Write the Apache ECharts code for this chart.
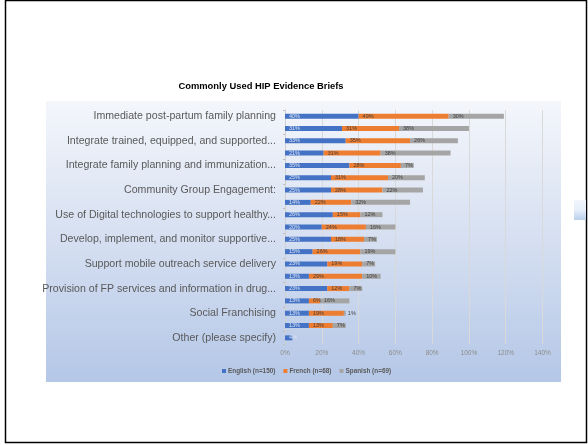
<!DOCTYPE html>
<html>
<head>
<meta charset="utf-8">
<script src="https://cdn.jsdelivr.net/npm/echarts@6/dist/echarts.min.js"></script>
<style>
html,body{margin:0;padding:0;background:#fff;}
#c{width:588px;height:445px;}
</style>
</head>
<body>
<div id="c"></div>
<script>
const categories = [
  "Immediate post-partum family planning",
  "Family planning vouchers",
  "Integrate trained, equipped, and supported community health workers",
  "Pharmacies and drug shops",
  "Integrate family planning and immunization services",
  "Mass media",
  "Community Group Engagement:",
  "Health communication",
  "Use of Digital technologies to support healthy behaviors",
  "Postabortion family planning",
  "Develop, implement, and monitor supportive policies",
  "Educating girls",
  "Support mobile outreach service delivery",
  "Leaders and managers",
  "Provision of FP services and information in drug shops",
  "Family planning and HIV integration",
  "Social Franchising",
  "Domestic public financing",
  "Other (please specify)"
];
const english = [40, 31, 33, 21, 35, 25, 25, 14, 26, 20, 25, 15, 23, 13, 23, 13, 13, 13, 4];
const french  = [49, 31, 35, 31, 28, 31, 28, 22, 15, 24, 18, 26, 19, 29, 12, 6, 19, 13, null];
const spanish = [30, 38, 26, 38, 7, 20, 22, 32, 12, 16, 7, 19, 7, 10, 7, 16, 1, 7, null];
const xTicks = [0, 20, 40, 60, 80, 100, 120, 140];
const seriesNames = ["English (n=150)", "French (n=68)", "Spanish (n=69)"];

const FONT = '"Liberation Sans", Arial, sans-serif';
const LABEL_SIZE = 10.6;
const MAX_W = 238;
const ctx = document.createElement('canvas').getContext('2d');
ctx.font = LABEL_SIZE + 'px ' + FONT;
function fit(text) {
  if (ctx.measureText(text).width <= MAX_W) return text;
  const words = text.split(' ');
  let out = '';
  for (const w of words) {
    const trial = out ? out + ' ' + w : w;
    if (ctx.measureText(trial + '...').width > MAX_W) break;
    out = trial;
  }
  return out + '...';
}

const chart = echarts.init(document.getElementById('c'), null, {renderer: 'canvas'});
function lbl(color) {
  return {
    show: true, position: 'insideLeft', distance: 4,
    fontSize: 5.5, fontFamily: FONT, color: color,
    formatter: p => (p.value == null ? '' : p.value + '%')
  };
}
chart.setOption({
  animation: false,
  graphic: [
    {type: 'rect', z: -10, shape: {x: 5.5, y: 0.5, width: 581, height: 442},
     style: {fill: '#ffffff', stroke: '#000', lineWidth: 1.5}},
    {type: 'rect', z: -9, shape: {x: 46, y: 101, width: 515, height: 281},
     style: {fill: new echarts.graphic.LinearGradient(0, 0, 0, 1, [
       {offset: 0, color: '#f4f6fb'}, {offset: 0.5, color: '#d5dff1'}, {offset: 1, color: '#b4c7e7'}])}},
    {type: 'rect', z: -9, shape: {x: 574, y: 200, width: 12, height: 20},
     style: {fill: new echarts.graphic.LinearGradient(0, 0, 0, 1, [
       {offset: 0, color: '#f2f6fc'}, {offset: 0.5, color: '#e6eef9'}, {offset: 1, color: '#b9cfea'}])}}
  ],
  title: {
    text: 'Commonly Used HIP Evidence Briefs',
    left: 256, top: 77, textAlign: 'center',
    textStyle: {fontSize: 9.4, fontWeight: 'bold', color: '#000', fontFamily: FONT}
  },
  legend: {
    data: seriesNames, left: 217, top: 363,
    itemWidth: 4, itemHeight: 4, itemGap: 8, icon: 'rect',
    textStyle: {fontSize: 6.4, fontWeight: 'bold', color: '#595959', fontFamily: FONT, padding: [0, 0, 0, -3]}
  },
  grid: {left: 285, right: 45.5, top: 110, height: 234, containLabel: false},
  xAxis: {
    type: 'value', min: 0, max: 140, interval: 20,
    axisLabel: {formatter: '{value}%', fontSize: 6.5, color: '#8c8c8c', fontFamily: FONT, margin: 6},
    axisLine: {show: false}, axisTick: {show: false},
    splitLine: {show: true, lineStyle: {color: '#d9d9d9', width: 1}}
  },
  yAxis: {
    type: 'category', data: categories, inverse: true,
    axisLabel: {
      interval: 1, fontSize: LABEL_SIZE, color: '#595959', fontFamily: FONT, margin: 9,
      formatter: v => fit(v)
    },
    axisLine: {show: true, lineStyle: {color: '#d0d0d0'}},
    axisTick: {show: true, length: 2, lineStyle: {color: '#bfbfbf'}}
  },
  series: [
    {name: seriesNames[0], type: 'bar', stack: 'all', data: english, barWidth: 5,
     itemStyle: {color: '#4472c4'}, label: lbl('#dbe4f3')},
    {name: seriesNames[1], type: 'bar', stack: 'all', data: french, barWidth: 5,
     itemStyle: {color: '#ed7d31'}, label: lbl('#404040')},
    {name: seriesNames[2], type: 'bar', stack: 'all', data: spanish, barWidth: 5,
     itemStyle: {color: '#a5a5a5'}, label: lbl('#404040')}
  ]
});
</script>
</body>
</html>
